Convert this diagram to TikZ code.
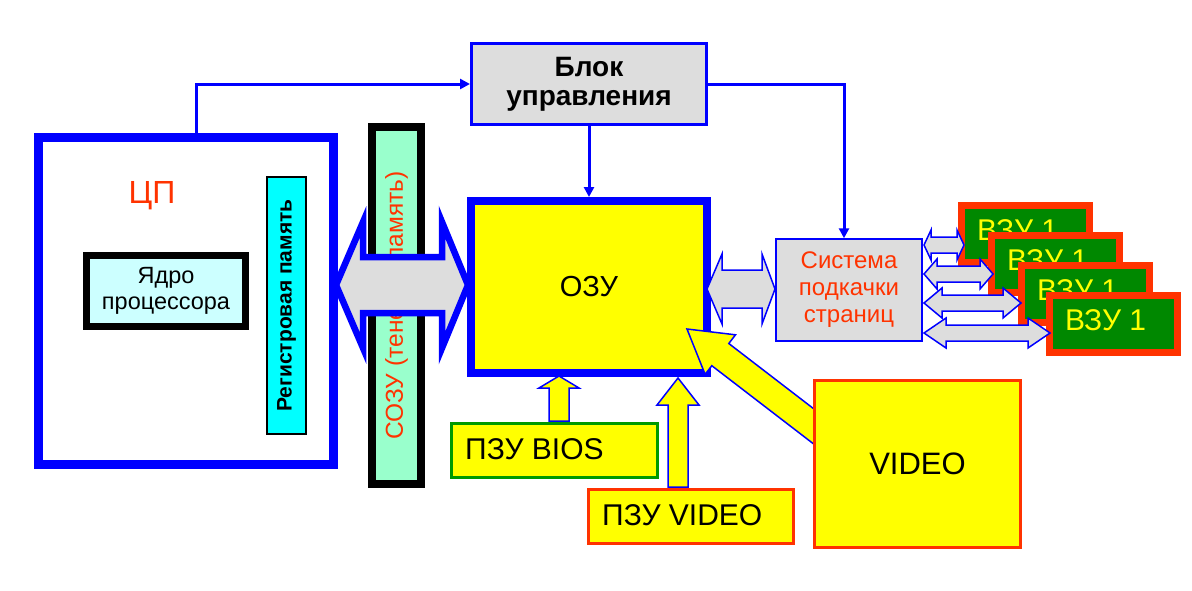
\documentclass[tikz,border=0pt]{standalone}
\usepackage{fontspec}
\setmainfont{Liberation Sans}
\usetikzlibrary{arrows.meta,calc}
\definecolor{pblue}{HTML}{0000FF}
\definecolor{pred}{HTML}{FF3300}
\definecolor{pyel}{HTML}{FFFF00}
\definecolor{pgray}{HTML}{DDDDDD}
\definecolor{pgreen}{HTML}{008800}
\definecolor{bgreen}{HTML}{009900}
\definecolor{lcyan}{HTML}{CCFFFF}
\definecolor{pcyan}{HTML}{00FFFF}
\definecolor{mint}{HTML}{99FFCC}
\newcommand{\fsz}[2]{\fontsize{#1pt}{#2pt}\selectfont}
\tikzset{
  conn/.style={draw=pblue, line width=3pt, -{Triangle[length=10pt,width=10pt]}},
  blockarrow/.style={draw=pblue, line width=1.5pt, line join=miter},
  vzubox/.style={draw=pred, fill=pgreen, line width=7pt, minimum width=128pt, minimum height=57pt, anchor=north west, inner sep=0pt},
  vzutext/.style={text=pyel, font=\fsz{30}{34}, anchor=base west, inner sep=0pt},
  plainbox/.style={line width=3pt, fill=pyel, inner sep=0pt},
}
\begin{document}
\begin{tikzpicture}[x=1pt,y=-1pt]
\useasboundingbox (0,0) rectangle (1192,590);
\fill[white] (0,0) rectangle (1192,590);

% CPU
\node[draw=pblue, line width=9pt, minimum width=295pt, minimum height=327pt, inner sep=0pt] (cpu) at (186,301) {};
\node[text=pred, font=\fsz{32}{36}, anchor=base, inner sep=0pt] (cpl) at (152,203) {ЦП};
\node[draw=black, fill=lcyan, line width=7pt, minimum width=159pt, minimum height=71pt, inner sep=0pt, align=center, font=\fsz{23.5}{26}] (core) at (166,291) {Ядро\\процессора};
\node[rotate=90, draw=black, fill=pcyan, line width=2pt, minimum width=257pt, minimum height=39pt, inner sep=0pt, font=\bfseries\fsz{21}{24}] (reg) at (286.5,305.5) {Регистровая память};

% SOZU bar
\node[rotate=90, draw=black, fill=mint, line width=8pt, minimum width=357pt, minimum height=49pt, inner sep=0pt, text=pred, font=\fsz{24.5}{28}] (sozu) at (396.5,305.5) {СОЗУ (теневая память)};

% big double arrow CPU <-> OZU
\draw[draw=pblue, fill=pgray, line width=6.5pt, line join=miter] (336,285) -- (363,222) -- (363,257) -- (442,257) -- (442,222) -- (468,285) -- (442,348) -- (442,313) -- (363,313) -- (363,348) -- cycle;

% control block, OZU, paging system
\node[draw=pblue, fill=pgray, line width=3pt, minimum width=235pt, minimum height=81pt, inner sep=0pt, align=center, font=\bfseries\fsz{28}{29}] (blok) at (589,84) {Блок\\управления};
\node[draw=pblue, fill=pyel, line width=8pt, minimum width=236pt, minimum height=172pt, inner sep=0pt, font=\fsz{29}{33}] (ozu) at (589,287) {ОЗУ};
\node[draw=pblue, fill=pgray, line width=1.5pt, minimum width=146pt, minimum height=102pt, inner sep=0pt, text=pred, align=center, font=\fsz{24}{27}] (sys) at (849,290) {Система\\подкачки\\страниц};

% OZU <-> paging double arrow
\draw[blockarrow, fill=pgray] (707,289) -- (722,254) -- (722,270) -- (762,270) -- (762,254) -- (775,289) -- (762,324) -- (762,308) -- (722,308) -- (722,324) -- cycle;

% connectors
\draw[conn] ([xshift=10pt]cpu.north) |- (blok.west);
\draw[conn] (blok.east) -| ([xshift=-5pt]sys.north);
\draw[conn] (blok.south) -- (ozu.north);

% VZU stack
\foreach \i/\lx/\ty in {1/958/202, 2/988/232, 3/1018/262, 4/1046/292} {
  \node[vzubox] (vzu\i) at (\lx,\ty) {};
  \node[vzutext] (vzut\i) at ($(vzu\i.north west)+(19,38)$) {ВЗУ 1};
}
\foreach \y/\r/\h in {245/964/7, 274/993/13, 303/1021/18, 333/1050/22} {
  \draw[blockarrow, fill=pgray] (924,\y) -- (924+\h,\y-15) -- (924+\h,\y-8) -- (\r-\h,\y-8) -- (\r-\h,\y-15) -- (\r,\y) -- (\r-\h,\y+15) -- (\r-\h,\y+8) -- (924+\h,\y+8) -- (924+\h,\y+15) -- cycle;
}

% ROM boxes
\node[draw=bgreen, plainbox, minimum width=206pt, minimum height=54pt] (bios) at (554.5,450.5) {};
\node[font=\fsz{30}{34}, anchor=base west, inner sep=0pt] (biost) at (465,459) {ПЗУ BIOS};
\node[draw=pred, plainbox, minimum width=205pt, minimum height=54pt] (vrom) at (691,516.5) {};
\node[font=\fsz{30}{34}, anchor=base west, inner sep=0pt] (vromt) at (602,525) {ПЗУ VIDEO};

% up arrows
\draw[blockarrow, fill=pyel] (549,421) -- (549,388) -- (539,388) -- (559,376) -- (579,388) -- (569,388) -- (569,421) -- cycle;
\draw[blockarrow, fill=pyel] (668,487) -- (668,405) -- (657,405) -- (678,378) -- (699,405) -- (688,405) -- (688,487) -- cycle;

% diagonal arrow VIDEO -> OZU
\draw[blockarrow, fill=pyel] (687,329) -- (735.5,334.8) -- (728.8,343.5) -- (848.5,435.5) -- (831.5,457.7) -- (711.8,365.7) -- (705.1,374.4) -- cycle;

% VIDEO
\node[draw=pred, plainbox, minimum width=206pt, minimum height=167pt, font=\fsz{31}{35}] (video) at (917.5,464) {VIDEO};
\end{tikzpicture}
\end{document}
